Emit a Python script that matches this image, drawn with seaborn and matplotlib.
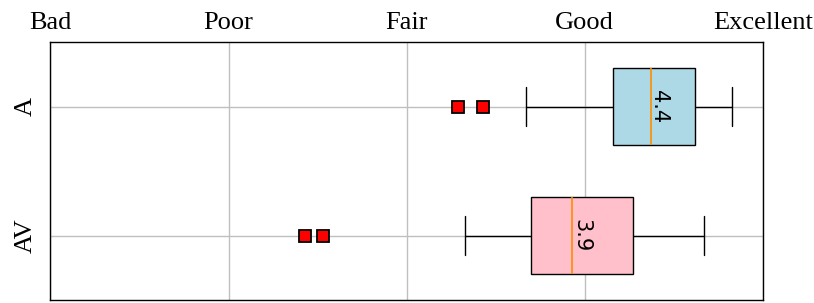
import matplotlib
matplotlib.use("Agg")
import matplotlib.pyplot as plt
import numpy as np
import pandas as pd
import seaborn as sns

# ratings per condition (1 = Bad ... 5 = Excellent)
a_scores = [3.29, 3.43, 3.67, 4.16, 4.22, 4.30, 4.37, 4.45, 4.52, 4.62, 4.70, 4.78, 4.83]
av_scores = [2.43, 2.53, 3.33, 3.70, 3.78, 3.86, 3.93, 4.05, 4.15, 4.27, 4.40, 4.55, 4.67]
conditions = ["A", "AV"]
box_colors = ["lightblue", "pink"]
scale_labels = ["Bad", "Poor", "Fair", "Good", "Excellent"]
scale_ticks = [1, 2, 3, 4, 5]

df = pd.DataFrame({
    "score": a_scores + av_scores,
    "cond": ["A"] * len(a_scores) + ["AV"] * len(av_scores),
})

sns.set_style("whitegrid")
plt.rcParams["font.family"] = ["Liberation Serif", "DejaVu Serif"]
plt.rcParams["text.color"] = "black"
plt.rcParams["xtick.color"] = "black"
plt.rcParams["ytick.color"] = "black"

fig, ax = plt.subplots(figsize=(8.14, 3.03), dpi=100)
sns.boxplot(
    data=df, x="score", y="cond", hue="cond", order=conditions,
    palette=dict(zip(conditions, box_colors)), legend=False, saturation=1,
    width=0.6, linecolor="black", linewidth=1.0,
    medianprops=dict(color="darkorange", linewidth=1.2),
    flierprops=dict(marker="s", markerfacecolor="red", markeredgecolor="black",
                    markersize=8, markeredgewidth=1.3),
    ax=ax,
)

# median annotations
for i, scores in enumerate([a_scores, av_scores]):
    med = np.median(scores)
    ax.text(med + 0.05, i, f"{med:.1f}", rotation=270, ha="center", va="center",
            fontsize=15, family="DejaVu Sans", color="black")

ax.set_xlim(1, 5)
ax.set_ylim(1.5, -0.5)
ax.set_xticks(scale_ticks)
ax.set_xticklabels(scale_labels, fontsize=19)
ax.xaxis.tick_top()
ax.tick_params(axis="x", length=0, pad=6)
ax.tick_params(axis="y", length=6, width=1, color="black", labelsize=19, pad=4)
ax.set_yticks(range(len(conditions)))
ax.set_yticklabels(conditions, rotation=90, va="center")
ax.set_xlabel("")
ax.set_ylabel("")
ax.grid(True, color="#bfbfbf", linewidth=1)
for s in ax.spines.values():
    s.set_color("black")
    s.set_linewidth(1)

fig.subplots_adjust(left=0.062, right=0.937, top=0.86, bottom=0.01)
fig.savefig("out.png", dpi=100)
